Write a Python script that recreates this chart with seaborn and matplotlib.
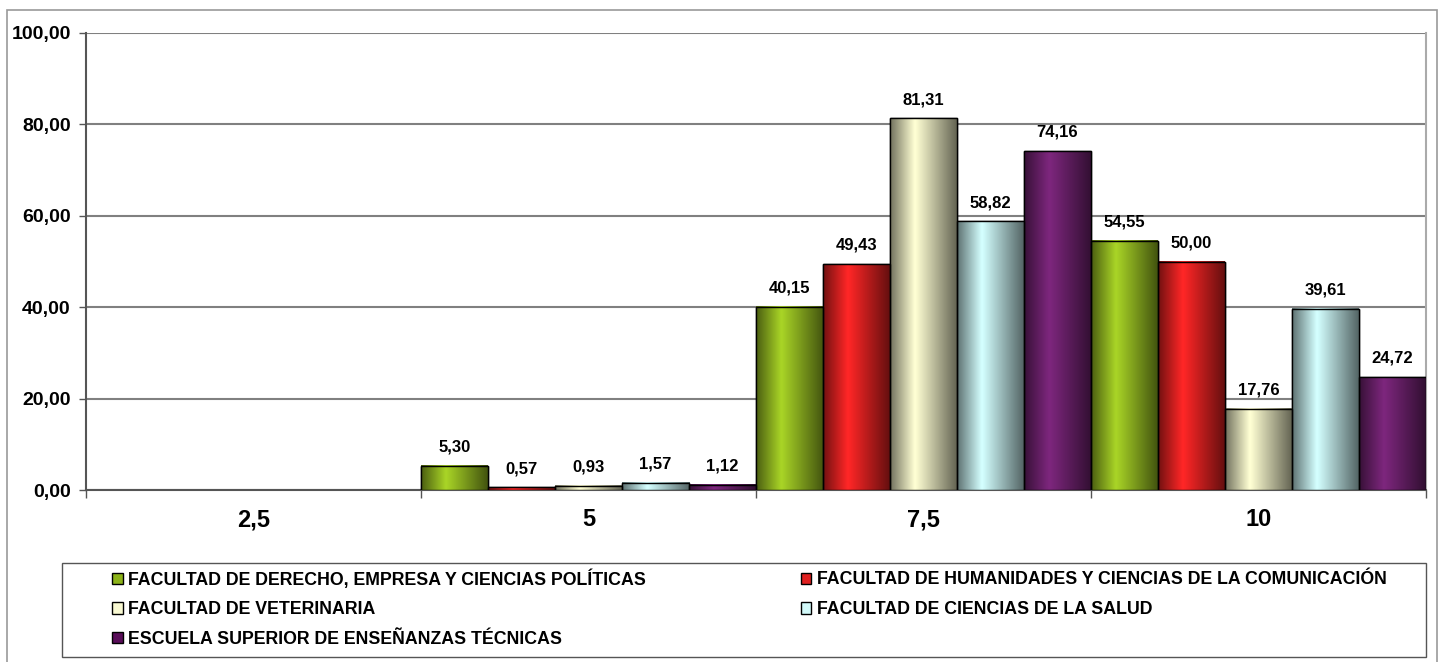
import numpy as np
import pandas as pd
import seaborn as sns
import matplotlib.pyplot as plt
from matplotlib.patches import Rectangle
from matplotlib.colors import to_rgb

# data
categorias = ["2,5", "5", "7,5", "10"]
derecho = [np.nan, 5.30, 40.15, 54.55]
humanidades = [np.nan, 0.57, 49.43, 50.00]
veterinaria = [np.nan, 0.93, 81.31, 17.76]
salud = [np.nan, 1.57, 58.82, 39.61]
eset = [np.nan, 1.12, 74.16, 24.72]

series = {
    "FACULTAD DE DERECHO, EMPRESA Y CIENCIAS POLÍTICAS": derecho,
    "FACULTAD DE HUMANIDADES Y CIENCIAS DE LA COMUNICACIÓN": humanidades,
    "FACULTAD DE VETERINARIA": veterinaria,
    "FACULTAD DE CIENCIAS DE LA SALUD": salud,
    "ESCUELA SUPERIOR DE ENSEÑANZAS TÉCNICAS": eset,
}
colores = ["#99CC00", "#FF0000", "#FFFFCC", "#CCFFFF", "#660066"]

rows = []
for centro, vals in series.items():
    for cat, v in zip(categorias, vals):
        rows.append({"nota": cat, "centro": centro, "pct": v})
df = pd.DataFrame(rows).dropna()

sns.set_style("white")
plt.rcParams["font.family"] = ["Liberation Sans", "DejaVu Sans"]
plt.rcParams["font.weight"] = "bold"
plt.rcParams["text.color"] = "black"
plt.rcParams["xtick.labelcolor"] = "black"
plt.rcParams["ytick.labelcolor"] = "black"

fig = plt.figure(figsize=(14.42, 6.62), dpi=100)
ax = fig.add_axes([86 / 1442, 1 - 490 / 662, (1426 - 86) / 1442, (490 - 33) / 662])

sns.barplot(data=df, x="nota", y="pct", hue="centro", order=categorias,
            hue_order=list(series.keys()), palette=colores, width=1.0,
            edgecolor="black", linewidth=1.0, ax=ax, zorder=3)

handles, labels = ax.get_legend_handles_labels()
ax.legend_.remove()

# cylinder-like shading of the bars
xl, yl = ax.get_xlim(), ax.get_ylim()
shade = np.concatenate([np.linspace(0.45, 1.0, 24), np.linspace(1.0, 0.4, 40)])
for cont, col in zip(ax.containers, colores):
    base = np.array(to_rgb(col))
    light = np.clip(base + (1 - base) * 0.15, 0, 1)
    img = np.clip(light[None, None, :] * shade[None, :, None], 0, 1)
    for p in cont.patches:
        x0, y0, w, h = p.get_x(), p.get_y(), p.get_width(), p.get_height()
        if not np.isfinite(h) or h <= 0:
            continue
        ax.imshow(img, extent=[x0, x0 + w, y0, y0 + h], aspect="auto",
                  interpolation="bicubic", zorder=3.1)
        ax.add_patch(Rectangle((x0, y0), w, h, fill=False, edgecolor="black",
                               linewidth=1.0, zorder=3.2))
    ax.bar_label(cont, fmt=lambda v: f"{v:.2f}".replace(".", ","), padding=8,
                 fontsize=12, fontweight="bold", color="black", zorder=4)
ax.set_xlim(xl)
ax.set_ylim(0, 100)

ax.set_yticks(range(0, 101, 20))
ax.set_yticklabels([f"{v},00" for v in range(0, 101, 20)], fontsize=14, fontweight="bold")
ax.yaxis.grid(True, color="#808080", linewidth=1.5, zorder=0)
ax.set_axisbelow(True)
ax.tick_params(axis="y", left=True, length=5, width=1, color="#555555", pad=6)

ax.set_xticks(range(len(categorias)))
ax.set_xticklabels(categorias, fontsize=17, fontweight="bold")
ax.set_xticks(np.arange(-0.5, len(categorias)), minor=True)
ax.tick_params(axis="x", which="major", length=0, pad=13)
ax.tick_params(axis="x", which="minor", bottom=True, length=6, width=1, color="#555555")
ax.set_xlabel("")
ax.set_ylabel("")

for s in ["left", "bottom"]:
    ax.spines[s].set_color("#555555")
    ax.spines[s].set_linewidth(1.5)
ax.spines["top"].set_visible(False)
ax.spines["right"].set_color("#aaaaaa")
ax.spines["right"].set_linewidth(1.5)

# legend box and entries
fig.patches.append(Rectangle((62 / 1442, 1 - 657 / 662), (1426 - 62) / 1442, 94 / 662,
                             transform=fig.transFigure, fill=False, edgecolor="#555555",
                             linewidth=1.0))
order = [0, 2, 4, 1, 3]
leg = fig.legend([handles[i] for i in order], [labels[i] for i in order],
                 loc="upper left", bbox_to_anchor=(112 / 1442, 1 - 569 / 662),
                 ncol=2, fontsize=12.8, frameon=False, handlelength=0.6, handleheight=0.6,
                 handletextpad=0.3, borderpad=0, labelspacing=0.72, columnspacing=8.7,
                 borderaxespad=0)
for t in leg.get_texts():
    t.set_fontweight("bold")
    t.set_color("black")

# outer chart frame
fig.patches.append(Rectangle((7 / 1442, -0.01), (1437 - 7) / 1442, 1 - 10 / 662 + 0.01,
                             transform=fig.transFigure, fill=False, edgecolor="#999999",
                             linewidth=1.2))

fig.savefig("out.png", dpi=100)
